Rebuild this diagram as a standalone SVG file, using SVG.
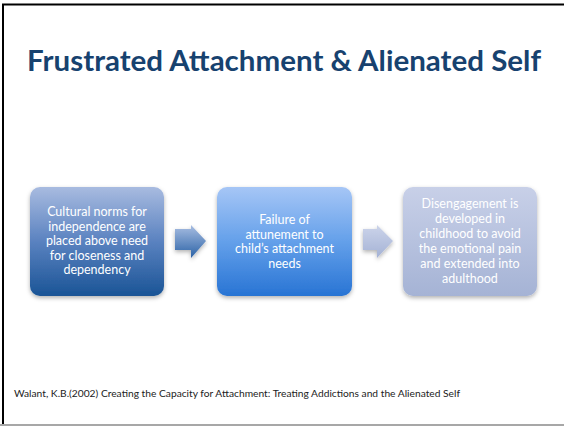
<svg xmlns="http://www.w3.org/2000/svg" width="564" height="426" viewBox="0 0 564 426">
<style>
.title{font-family:Lato,"Open Sans","Liberation Sans",sans-serif;font-weight:bold;font-size:29px;fill:#17426f}
.bt{font-family:Lato,"Open Sans","Liberation Sans",sans-serif;font-size:12.5px;fill:#ffffff;text-anchor:middle}
.foot{font-family:Lato,"Open Sans","Liberation Sans",sans-serif;font-size:10px;fill:#222}
</style>
<defs>
<linearGradient id="g1" x1="0" y1="0" x2="0" y2="1"><stop offset="0" stop-color="#a8bbe0"/><stop offset="0.5" stop-color="#5a82c0"/><stop offset="1" stop-color="#1a5496"/></linearGradient>
<linearGradient id="g2" x1="0" y1="0" x2="0" y2="1"><stop offset="0" stop-color="#a6c6f6"/><stop offset="0.5" stop-color="#64a0ea"/><stop offset="1" stop-color="#2874d4"/></linearGradient>
<linearGradient id="g3" x1="0" y1="0" x2="0" y2="1"><stop offset="0" stop-color="#c8d0e8"/><stop offset="1" stop-color="#a5b3d5"/></linearGradient>
<linearGradient id="a1" x1="0" y1="0" x2="0" y2="1"><stop offset="0" stop-color="#a9bee2"/><stop offset="1" stop-color="#2a62a6"/></linearGradient>
<linearGradient id="a2" x1="0" y1="0" x2="0" y2="1"><stop offset="0" stop-color="#ccd4ea"/><stop offset="1" stop-color="#a4b2d5"/></linearGradient>
<filter id="sh" x="-10%" y="-10%" width="120%" height="130%"><feDropShadow dx="0" dy="2" stdDeviation="2" flood-color="#000" flood-opacity="0.3"/></filter>
</defs>
<rect x="0" y="0" width="564" height="426" fill="#ffffff"/>
<line x1="2" y1="4.5" x2="564" y2="4.5" stroke="#000" stroke-width="2"/>
<line x1="3" y1="4" x2="3" y2="424" stroke="#000" stroke-width="2"/>
<line x1="0" y1="425" x2="564" y2="425" stroke="#8a8a8a" stroke-width="1.5"/>
<text class="title" x="284" y="71" text-anchor="middle" textLength="514" lengthAdjust="spacingAndGlyphs">Frustrated Attachment &amp; Alienated Self</text>
<g id="connectors">
<path d="M175,229 H191 V225 L206,241 L191,258 V250 H175 Z" fill="url(#a1)" filter="url(#sh)"/>
<path d="M363,229 H377 V225 L393,241 L377,258 V250 H363 Z" fill="url(#a2)" filter="url(#sh)"/>
</g>
<g id="box1">
<rect x="30" y="187" width="134" height="109" rx="10" fill="url(#g1)" filter="url(#sh)"/>
<text class="bt" x="97" y="216">Cultural norms for</text>
<text class="bt" x="97" y="230.5">independence are</text>
<text class="bt" x="97" y="245">placed above need</text>
<text class="bt" x="97" y="259.5">for closeness and</text>
<text class="bt" x="97" y="274">dependency</text>
</g>
<g id="box2">
<rect x="217" y="187" width="135" height="109" rx="10" fill="url(#g2)" filter="url(#sh)"/>
<text class="bt" x="284.5" y="224">Failure of</text>
<text class="bt" x="284.5" y="238.5">attunement to</text>
<text class="bt" x="284.5" y="253">child’s attachment</text>
<text class="bt" x="284.5" y="267.5">needs</text>
</g>
<g id="box3">
<rect x="403" y="187" width="134" height="109" rx="10" fill="url(#g3)" filter="url(#sh)"/>
<text class="bt" x="470" y="208">Disengagement is</text>
<text class="bt" x="470" y="223">developed in</text>
<text class="bt" x="470" y="238">childhood to avoid</text>
<text class="bt" x="470" y="253">the emotional pain</text>
<text class="bt" x="470" y="268">and extended into</text>
<text class="bt" x="470" y="283">adulthood</text>
</g>
<text class="foot" x="14" y="397" textLength="446" lengthAdjust="spacingAndGlyphs">Walant, K.B.(2002) Creating the Capacity for Attachment:  Treating Addictions and the Alienated Self</text>
</svg>
